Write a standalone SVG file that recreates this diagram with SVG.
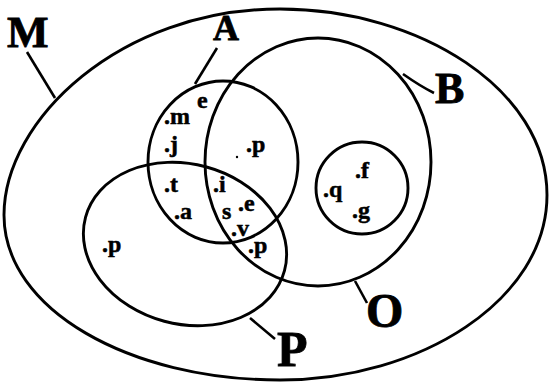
<svg xmlns="http://www.w3.org/2000/svg" width="549" height="383" viewBox="0 0 549 383">
<style>
.c{fill:none;stroke:#000;stroke-width:2.9}
.l{fill:none;stroke:#000;stroke-width:2.6}
.t{font-family:"Liberation Serif","Times New Roman",serif;font-weight:bold;fill:#000;stroke:#000;stroke-width:0.5;font-size:24px}
.big{font-family:"Liberation Serif","Times New Roman",serif;font-weight:bold;fill:#000;stroke:#000;stroke-width:0.8}
</style>
<rect width="549" height="383" fill="#fff"/>
<g id="M">
<path class="c" d="M280,9 C420,9 547,90 547,195 C547,300 420,380 280,380 C130,380 4,310 4,215 C4,120 120,9 280,9 Z"/>
<text class="big" x="7" y="47" font-size="44">M</text>
</g>
<g id="A">
<ellipse class="c" cx="223" cy="162" rx="75" ry="81"/>
<text class="big" x="213" y="40" font-size="36">A</text>
</g>
<g id="B">
<ellipse class="c" cx="318" cy="162" rx="113" ry="124"/>
<text class="big" x="435" y="103" font-size="44">B</text>
</g>
<g id="O">
<circle class="c" cx="362" cy="188" r="46"/>
<text class="big" x="366" y="327" font-size="48">O</text>
</g>
<g id="P">
<ellipse class="c" cx="185" cy="244" rx="103" ry="80" transform="rotate(15 185 244)"/>
<text class="big" x="277" y="366" font-size="50">P</text>
</g>
<g id="connectors">
<line class="l" x1="27" y1="52" x2="55" y2="98"/>
<line class="l" x1="217" y1="48" x2="195" y2="84"/>
<path class="l" d="M403,74 Q420,86 434,93"/>
<line class="l" x1="355" y1="281" x2="367" y2="303"/>
<line class="l" x1="250" y1="318" x2="275" y2="339"/>
</g>
<g id="labels">
<text class="t" x="164" y="124">.m</text>
<text class="t" x="197" y="108">e</text>
<text class="t" x="164" y="152">.j</text>
<text class="t" x="246" y="152">.p</text>
<circle cx="237" cy="157" r="1.2" fill="#000"/>
<text class="t" x="164" y="192">.t</text>
<text class="t" x="174" y="219">.a</text>
<text class="t" x="213" y="192">.i</text>
<text class="t" x="222" y="219">s</text>
<text class="t" x="238" y="211">.e</text>
<text class="t" x="231" y="236">.v</text>
<text class="t" x="248" y="253">.p</text>
<text class="t" x="102" y="252">.p</text>
<text class="t" x="323" y="197">.q</text>
<text class="t" x="355" y="178">.f</text>
<text class="t" x="352" y="218">.g</text>
</g>
</svg>
